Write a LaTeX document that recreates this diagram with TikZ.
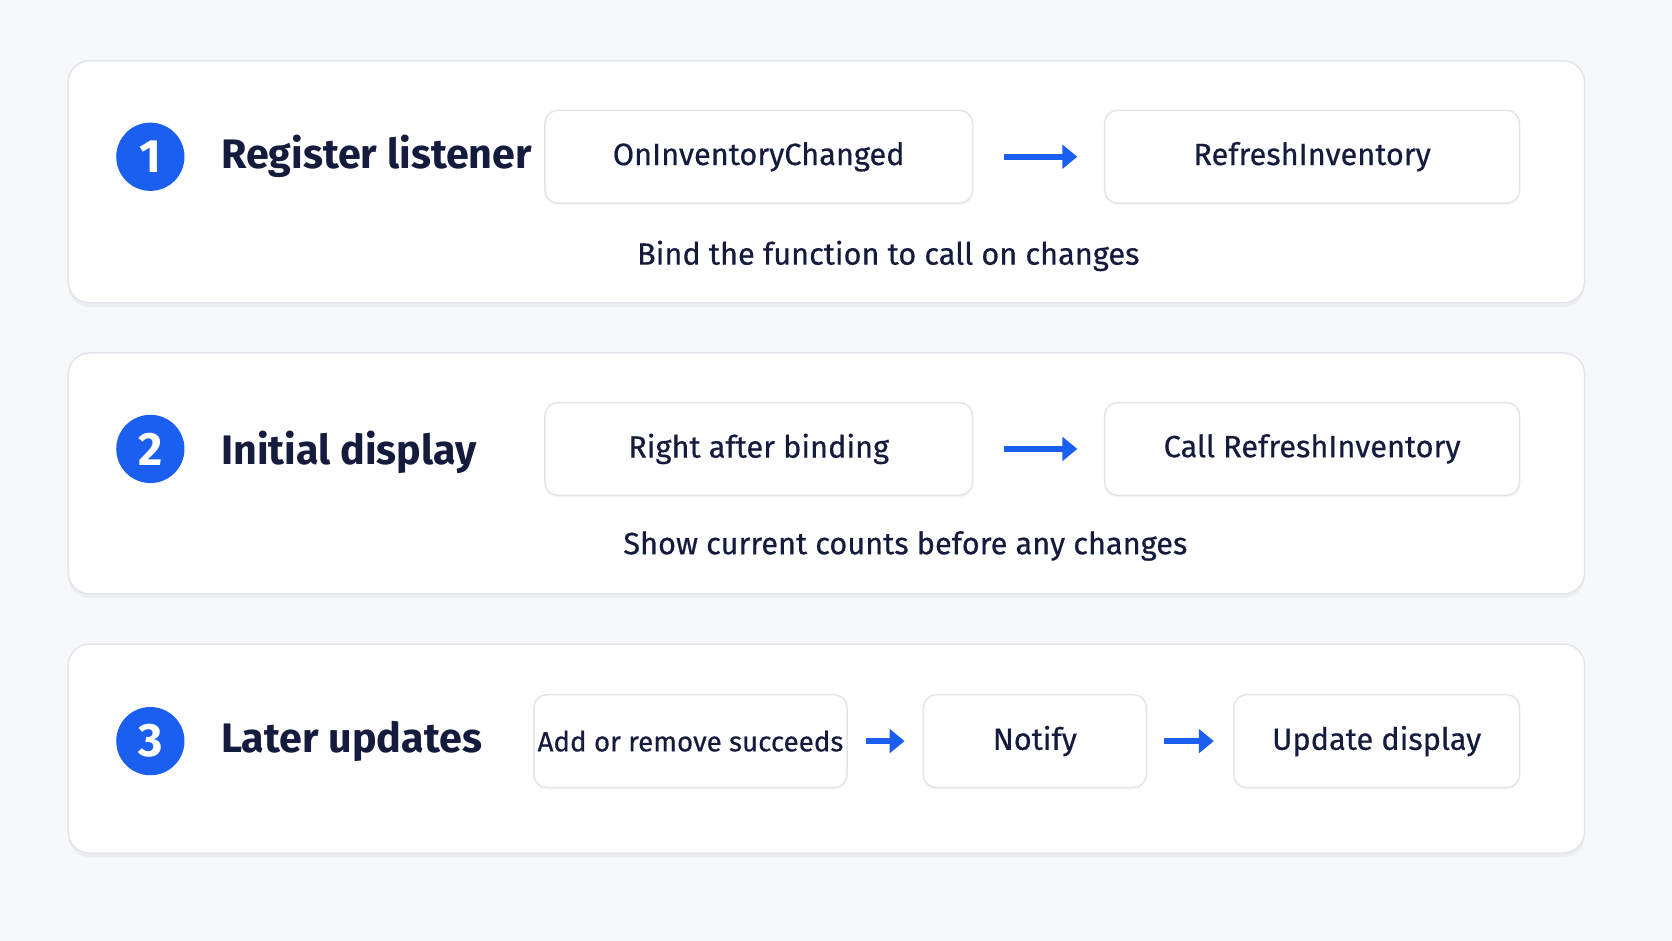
\documentclass[tikz,border=0pt]{standalone}
\usepackage{fontspec}
\setmainfont{Fira Sans}
\usetikzlibrary{arrows.meta,positioning,shadows}
\definecolor{navy}{HTML}{141B3D}
\definecolor{accent}{HTML}{1A5FF0}
\definecolor{pagebg}{HTML}{F7F8FA}
\definecolor{edge}{HTML}{E3E5EA}
\tikzset{
  card/.style={draw=edge, fill=white, rounded corners=0.2cm, line width=0.4pt,
    drop shadow={shadow xshift=0pt, shadow yshift=-0.04cm, opacity=0.08}},
  badge/.style={circle, fill=accent, text=white, minimum size=0.64cm, inner sep=0pt,
    font=\fontsize{12.5}{14}\selectfont\bfseries},
  title/.style={anchor=west, text=navy, font=\fontsize{11}{13}\selectfont\bfseries},
  box/.style={draw=edge, fill=white, rounded corners=0.12cm, minimum height=0.87cm,
    inner sep=1pt, text=navy, font=\fontsize{8.2}{10}\selectfont\addfontfeature{FakeBold=0.5},
    drop shadow={shadow xshift=0pt, shadow yshift=-0.02cm, opacity=0.06}},
  note/.style={text=navy, font=\fontsize{8.2}{10}\selectfont\addfontfeature{FakeBold=0.5}},
  flow/.style={-{Triangle[length=0.14cm,width=0.22cm]}, accent, line width=1.6pt}
}
\begin{document}
\begin{tikzpicture}
\fill[pagebg] (0,0) rectangle (15.68,8.82);
\useasboundingbox (0,0) rectangle (15.68,8.82);
% cards
\draw[card] (0.64,5.98) rectangle (14.86,8.25);
\draw[card] (0.64,3.25) rectangle (14.86,5.51);
\draw[card] (0.64,0.82) rectangle (14.86,2.78);
% row 1
\node[badge] (s1) at (1.41,7.35) {1};
\node[title] (t1) at (1.95,7.35) {Register listener};
\node[box, minimum width=4.01cm] (a1) at (7.115,7.35) {OnInventoryChanged};
\node[box, minimum width=3.89cm] (b1) at (12.305,7.35) {RefreshInventory};
\draw[flow] ([xshift=0.29cm]a1.east) -- ([xshift=-0.25cm]b1.west);
\node[note] (n1) at (8.33,6.42) {Bind the function to call on changes};
% row 2
\node[badge] (s2) at (1.41,4.61) {2};
\node[title] (t2) at (1.95,4.58) {Initial display};
\node[box, minimum width=4.01cm] (a2) at (7.115,4.61) {Right after binding};
\node[box, minimum width=3.89cm] (b2) at (12.305,4.61) {Call RefreshInventory};
\draw[flow] ([xshift=0.29cm]a2.east) -- ([xshift=-0.25cm]b2.west);
\node[note] (n2) at (8.49,3.70) {Show current counts before any changes};
% row 3
\node[badge] (s3) at (1.41,1.87) {3};
\node[title] (t3) at (1.95,1.87) {Later updates};
\node[box, minimum width=2.73cm, font=\fontsize{7.4}{9}\selectfont\addfontfeature{FakeBold=0.5}] (a3) at (6.475,1.87) {Add or remove succeeds};
\node[box, minimum width=2.09cm] (b3) at (9.705,1.87) {Notify};
\node[box, minimum width=2.68cm] (c3) at (12.91,1.87) {Update display};
\draw[flow] ([xshift=0.17cm]a3.east) -- ([xshift=-0.17cm]b3.west);
\draw[flow] ([xshift=0.16cm]b3.east) -- ([xshift=-0.18cm]c3.west);
\end{tikzpicture}
\end{document}
